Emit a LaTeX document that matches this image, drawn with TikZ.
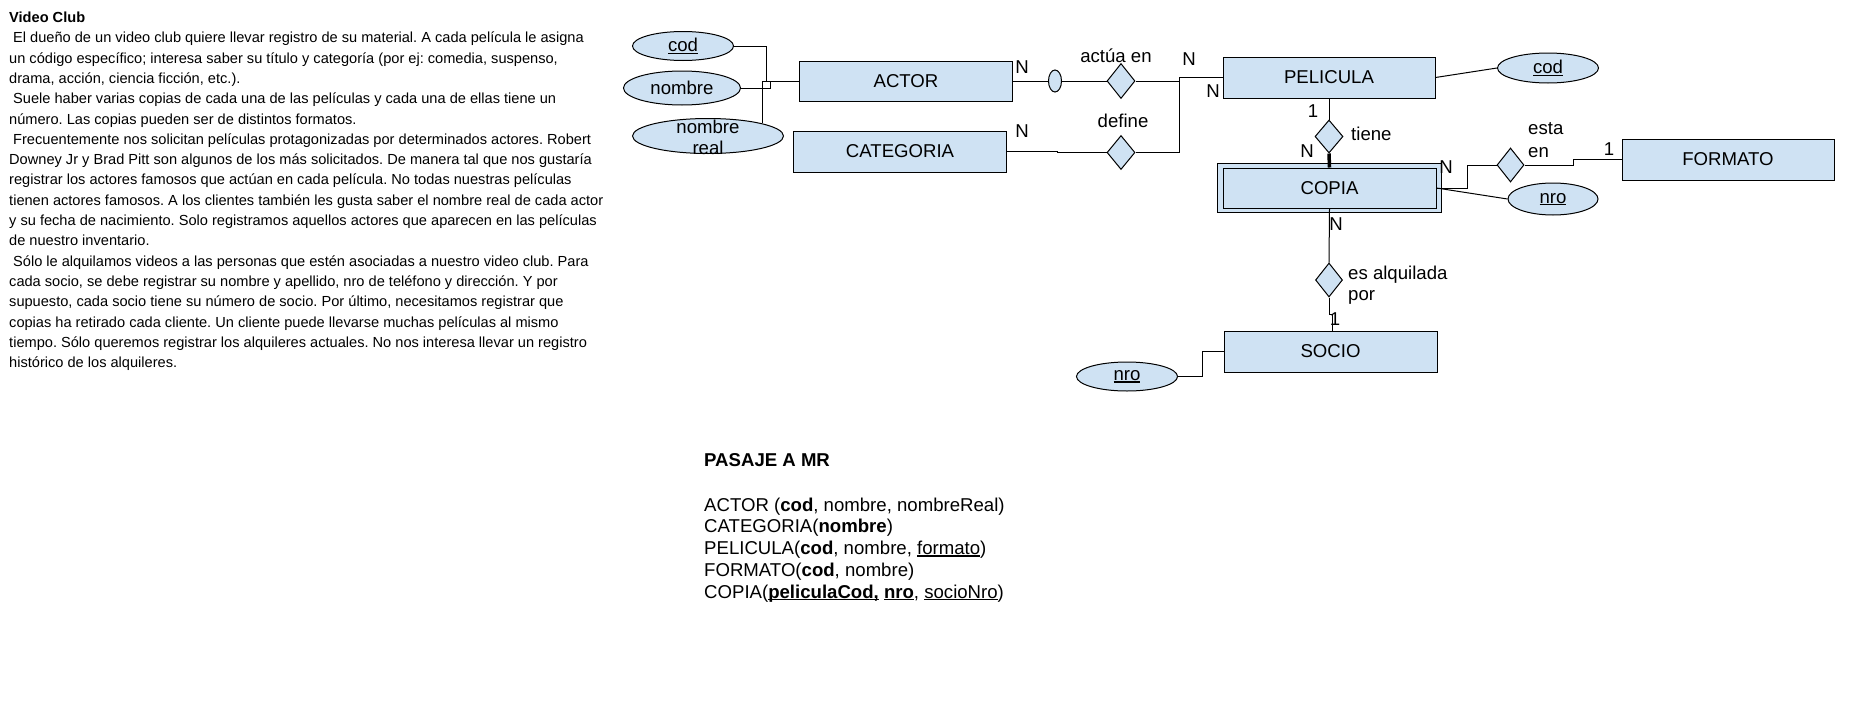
\documentclass[tikz,border=0pt]{standalone}
\usepackage{fontspec}
\setmainfont{Liberation Sans}
\usetikzlibrary{shapes.geometric}
\definecolor{erfill}{HTML}{CFE2F3}
\newsavebox\myulbox
\newcommand{\myul}[1]{\sbox\myulbox{#1}\rlap{\rule[-2pt]{\wd\myulbox}{1.2pt}}\usebox\myulbox}
\frenchspacing
\begin{document}
\begin{tikzpicture}[x=1pt,y=-1pt,
  ent/.style={draw,line width=1pt,fill=erfill,rectangle,inner sep=0pt,font=\fontsize{18.6}{21}\selectfont},
  attr/.style={draw,line width=1pt,fill=erfill,ellipse,inner sep=0pt,font=\fontsize{18.6}{21}\selectfont},
  rel/.style={draw,line width=1pt,fill=erfill,diamond,inner sep=0pt},
  lbl/.style={inner sep=0pt,font=\fontsize{18.6}{21}\selectfont},
  txt/.style={inner sep=0pt,anchor=base west,font=\fontsize{14.6}{20}\selectfont},
  mr/.style={inner sep=0pt,anchor=base west,font=\fontsize{18.6}{22}\selectfont},
  conn/.style={line width=1pt}]
\useasboundingbox (0,0) rectangle (1860,712);

% ---- left description text ----
\node[txt] (t0) at (9,22.5) {\textbf{Video Club}};
\node[txt] (t1) at (9,42.8) {\hspace*{4pt}El dueño de un video club quiere llevar registro de su material. A cada película le asigna};
\node[txt] (t2) at (9,63.1) {un código específico; interesa saber su título y categoría (por ej: comedia, suspenso,};
\node[txt] (t3) at (9,83.4) {drama, acción, ciencia ficción, etc.).};
\node[txt] (t4) at (9,103.7) {\hspace*{4pt}Suele haber varias copias de cada una de las películas y cada una de ellas tiene un};
\node[txt] (t5) at (9,124.0) {número. Las copias pueden ser de distintos formatos.};
\node[txt] (t6) at (9,144.3) {\hspace*{4pt}Frecuentemente nos solicitan películas protagonizadas por determinados actores. Robert};
\node[txt] (t7) at (9,164.6) {Downey Jr y Brad Pitt son algunos de los más solicitados. De manera tal que nos gustaría};
\node[txt] (t8) at (9,184.9) {registrar los actores famosos que actúan en cada película. No todas nuestras películas};
\node[txt] (t9) at (9,205.2) {tienen actores famosos. A los clientes también les gusta saber el nombre real de cada actor};
\node[txt] (t10) at (9,225.5) {y su fecha de nacimiento. Solo registramos aquellos actores que aparecen en las películas};
\node[txt] (t11) at (9,245.8) {de nuestro inventario.};
\node[txt] (t12) at (9,266.1) {\hspace*{4pt}Sólo le alquilamos videos a las personas que estén asociadas a nuestro video club. Para};
\node[txt] (t13) at (9,286.4) {cada socio, se debe registrar su nombre y apellido, nro de teléfono y dirección. Y por};
\node[txt] (t14) at (9,306.7) {supuesto, cada socio tiene su número de socio. Por último, necesitamos registrar que};
\node[txt] (t15) at (9,327.0) {copias ha retirado cada cliente. Un cliente puede llevarse muchas películas al mismo};
\node[txt] (t16) at (9,347.3) {tiempo. Sólo queremos registrar los alquileres actuales. No nos interesa llevar un registro};
\node[txt] (t17) at (9,367.6) {histórico de los alquileres.};

% ---- entities ----
\node[ent,minimum width=213pt,minimum height=40pt] (actor) at (906,81) {ACTOR};
\node[ent,minimum width=213pt,minimum height=41pt] (categoria) at (900,151.5) {CATEGORIA};
\node[ent,minimum width=212pt,minimum height=41pt] (pelicula) at (1329,77.5) {PELICULA};
\node[ent,minimum width=224pt,minimum height=49pt] (copia) at (1329,187.5) {};
\node[ent,minimum width=213pt,minimum height=40pt] (copiain) at (1329.5,188) {COPIA};
\node[ent,minimum width=212pt,minimum height=41pt] (formato) at (1728,159.5) {FORMATO};
\node[ent,minimum width=213pt,minimum height=41pt] (socio) at (1330.5,351.5) {SOCIO};

% ---- attributes ----
\node[attr,minimum width=101pt,minimum height=29pt] (acod) at (683,46) {\myul{cod}};
\node[attr,minimum width=117pt,minimum height=34pt] (anombre) at (682,88) {nombre};
\node[attr,minimum width=151pt,minimum height=35pt] (areal) at (708,136) {};
\node[lbl,align=center,font=\fontsize{18.6}{21}\selectfont] (arealtxt) at (708,137) {nombre\\real};
\node[attr,minimum width=101pt,minimum height=30pt] (pcod) at (1548,68) {\myul{cod}};
\node[attr,minimum width=90pt,minimum height=32pt] (cnro) at (1553,199) {\myul{nro}};
\node[attr,minimum width=101pt,minimum height=29pt] (snro) at (1127,376.5) {\myul{nro}};
\node[attr,minimum width=13pt,minimum height=22pt] (circ) at (1055,81) {};

% ---- relationships ----
\node[rel,minimum width=28pt,minimum height=35pt] (dactua) at (1121,81) {};
\node[rel,minimum width=28pt,minimum height=34pt] (ddefine) at (1121,152.5) {};
\node[rel,minimum width=28pt,minimum height=33pt] (dtiene) at (1329,136.5) {};
\node[rel,minimum width=27pt,minimum height=34pt] (desta) at (1510.5,165) {};
\node[rel,minimum width=27pt,minimum height=34pt] (dalq) at (1329,280) {};

% ---- connectors ----
\draw[conn] (acod.east) -| (766,81) -- (actor.west);
\draw[conn] (anombre.east) -| (770,81) -- (actor.west);
\draw[conn] (areal.13) |- (actor.west);
\draw[conn] (actor.east) -- (circ.west);
\draw[conn] (circ.east) -- (dactua.west);
\draw[conn] (dactua.east) -- (1179,81) -- (1179,77.5) -- (pelicula.west);
\draw[conn] (categoria.east) -- (1057,151.5) -- (1057,152.5) -- (ddefine.west);
\draw[conn] (ddefine.east) -| (1179,81);
\draw[conn] (pelicula.south) -- (dtiene.north);
\draw[line width=3.5pt] (dtiene.south) -- (copiain.north);
\draw[conn] (copiain.east) -- (1467,188) -- (1467,165) -- (desta.west);
\draw[conn] (copiain.east) -- (cnro.west);
\draw[conn] (desta.east) -- (1573,165) -- (1573,159.5) -- (formato.west);
\draw[conn] (pelicula.east) -- (pcod.west);
\draw[conn] (copiain.south) -- (dalq.north);
\draw[conn] (dalq.south) -- (1329,314) -- (1332,314) -- (1332,314 |- socio.north);
\draw[conn] (snro.east) -- (1202,376.5) -- (1202,351.5) -- (socio.west);

% ---- cardinality and relationship labels ----
\node[lbl] (n1) at (1022,67.5) {N};
\node[lbl] (n2) at (1022,131) {N};
\node[lbl,anchor=base] (lactua) at (1116,62) {actúa en};
\node[lbl,anchor=base] (ldefine) at (1123,127) {define};
\node[lbl] (n3) at (1189,59) {N};
\node[lbl] (n4) at (1213,91) {N};
\node[lbl] (o1) at (1313,111.5) {1};
\node[lbl,anchor=base west] (ltiene) at (1351,140) {tiene};
\node[lbl] (n5) at (1307,151) {N};
\node[lbl] (n6) at (1446,167) {N};
\node[lbl,anchor=base west] (lesta) at (1528,134) {esta};
\node[lbl,anchor=base west] (len) at (1528,157) {en};
\node[lbl] (o2) at (1609,149) {1};
\node[lbl] (n7) at (1336,224) {N};
\node[lbl,anchor=base west] (lalq) at (1348,279) {es alquilada};
\node[lbl,anchor=base west] (lpor) at (1348,300) {por};
\node[lbl] (o3) at (1335,319.5) {1};

% ---- relational model ----
\node[mr] (m0) at (704,466) {\textbf{PASAJE A MR}};
\node[mr] (m1) at (704,511) {ACTOR (\textbf{cod}, nombre, nombreReal)};
\node[mr] (m2) at (704,532.75) {CATEGORIA(\textbf{nombre})};
\node[mr] (m3) at (704,554.5) {PELICULA(\textbf{cod}, nombre, \myul{formato})};
\node[mr] (m4) at (704,576.25) {FORMATO(\textbf{cod}, nombre)};
\node[mr] (m5) at (704,598) {COPIA(\myul{\textbf{peliculaCod,}} \myul{\textbf{nro}}, \myul{socioNro})};
\end{tikzpicture}
\end{document}
